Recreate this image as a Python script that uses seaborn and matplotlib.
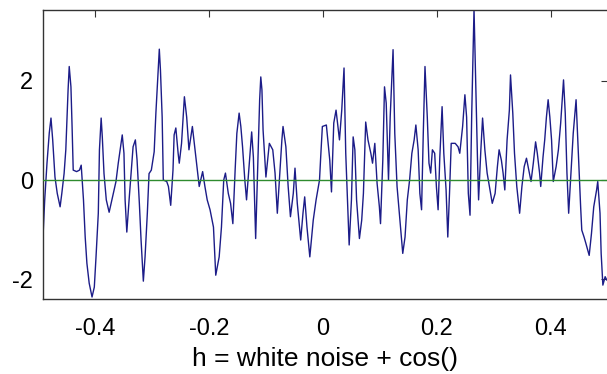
import matplotlib
matplotlib.use("Agg")
import matplotlib.pyplot as plt
import seaborn as sns
import numpy as np

# Sample positions (normalized) and signal values
x_vals = [
    -0.491, -0.488, -0.484, -0.480, -0.477, -0.474, -0.470, -0.466, -0.461, -0.458,
    -0.454, -0.451, -0.447, -0.445, -0.442, -0.440, -0.438, -0.432, -0.427, -0.424,
    -0.420, -0.417, -0.414, -0.410, -0.405, -0.401, -0.398, -0.394, -0.392, -0.389,
    -0.387, -0.384, -0.380, -0.375, -0.369, -0.363, -0.359, -0.355, -0.352, -0.349,
    -0.347, -0.344, -0.340, -0.336, -0.333, -0.329, -0.326, -0.322, -0.319, -0.315,
    -0.312, -0.308, -0.305, -0.301, -0.296, -0.293, -0.289, -0.287, -0.285, -0.282,
    -0.280, -0.274, -0.271, -0.267, -0.263, -0.261, -0.258, -0.254, -0.252, -0.248,
    -0.243, -0.239, -0.235, -0.229, -0.225, -0.221, -0.217, -0.211, -0.207, -0.203,
    -0.198, -0.192, -0.188, -0.182, -0.178, -0.174, -0.171, -0.166, -0.162, -0.158,
    -0.154, -0.151, -0.147, -0.144, -0.141, -0.137, -0.134, -0.130, -0.125, -0.122,
    -0.118, -0.114, -0.111, -0.109, -0.107, -0.105, -0.100, -0.094, -0.088, -0.084,
    -0.080, -0.072, -0.070, -0.065, -0.061, -0.057, -0.052, -0.049, -0.045, -0.039,
    -0.035, -0.032, -0.028, -0.023, -0.017, -0.012, -0.006, -0.004, -0.001, 0.006,
    0.012, 0.015, 0.019, 0.023, 0.029, 0.033, 0.037, 0.040, 0.044, 0.046,
    0.050, 0.053, 0.056, 0.059, 0.064, 0.068, 0.071, 0.075, 0.079, 0.084,
    0.087, 0.091, 0.095, 0.099, 0.101, 0.105, 0.108, 0.111, 0.115, 0.118,
    0.121, 0.123, 0.126, 0.130, 0.135, 0.140, 0.144, 0.148, 0.152, 0.156,
    0.160, 0.163, 0.167, 0.170, 0.173, 0.176, 0.179, 0.183, 0.186, 0.189,
    0.192, 0.196, 0.199, 0.202, 0.205, 0.209, 0.212, 0.216, 0.219, 0.222,
    0.225, 0.232, 0.237, 0.240, 0.245, 0.249, 0.252, 0.255, 0.258, 0.261,
    0.265, 0.268, 0.271, 0.273, 0.277, 0.280, 0.284, 0.288, 0.293, 0.297,
    0.302, 0.306, 0.309, 0.313, 0.316, 0.319, 0.323, 0.327, 0.329, 0.333,
    0.336, 0.340, 0.345, 0.349, 0.353, 0.357, 0.362, 0.365, 0.369, 0.373,
    0.376, 0.380, 0.382, 0.386, 0.389, 0.392, 0.395, 0.398, 0.401, 0.404,
    0.409, 0.413, 0.417, 0.422, 0.425, 0.428, 0.431, 0.435, 0.439, 0.444,
    0.447, 0.450, 0.452, 0.454, 0.458, 0.461, 0.467, 0.471, 0.475, 0.480,
    0.482, 0.486, 0.488, 0.491, 0.495, 0.498,
]
h_vals = [
    -1.15, -0.40, 0.34, 0.95, 1.25, 0.81, 0.06, -0.27, -0.54, -0.27,
    0.13, 0.61, 1.82, 2.29, 1.88, 1.08, 0.20, 0.17, 0.20, 0.30,
    -0.40, -1.15, -1.68, -2.08, -2.36, -2.16, -1.55, -0.67, 0.61, 1.25,
    0.87, 0.13, -0.40, -0.65, -0.34, -0.03, 0.34, 0.67, 0.91, 0.54,
    -0.40, -1.05, -0.40, 0.20, 0.67, 0.81, 0.40, -0.47, -1.21, -2.04,
    -1.55, -0.67, 0.13, 0.20, 0.57, 1.35, 2.22, 2.64, 2.22, 1.27,
    0.00, -0.03, -0.13, -0.51, 0.20, 0.91, 1.05, 0.54, 0.34, 0.74,
    1.68, 1.27, 0.61, 1.08, 0.67, 0.27, -0.13, 0.17, -0.13, -0.40,
    -0.60, -0.95, -1.92, -1.55, -0.95, 0.00, 0.14, -0.27, -0.47, -0.88,
    0.20, 0.94, 1.35, 1.08, 0.67, 0.00, -0.40, 0.20, 0.97, 0.46,
    -1.18, 0.46, 1.62, 2.08, 1.82, 1.01, 0.06, 0.74, 0.61, 0.14,
    -0.67, 0.81, 1.08, 0.67, -0.13, -0.74, -0.27, 0.24, -0.47, -1.21,
    -0.67, -0.34, -0.95, -1.55, -0.81, -0.40, 0.00, 0.45, 1.08, 1.11,
    0.40, -0.24, 1.15, 1.41, 0.81, 1.41, 2.26, 0.54, -0.67, -1.31,
    -0.40, 0.87, 0.61, -0.40, -1.18, -0.81, -0.27, 1.17, 0.81, 0.54,
    0.34, 0.74, -0.07, -0.54, -0.88, 0.40, 1.88, 1.55, 0.00, 1.28,
    2.08, 2.63, 0.94, -0.13, -0.80, -1.48, -1.15, -0.40, 0.00, 0.54,
    0.81, 1.11, 0.61, -0.27, -0.60, 0.94, 2.29, 1.28, 0.34, 0.14,
    0.61, 0.54, -0.13, -0.60, 0.46, 1.48, 0.54, -0.20, -1.15, -0.27,
    0.74, 0.74, 0.67, 0.54, 1.08, 1.72, 1.27, -0.27, -0.71, 1.35,
    3.45, 1.96, 0.46, -0.40, 0.61, 1.25, 0.61, 0.14, -0.20, -0.47,
    -0.27, 0.27, 0.61, 0.40, 0.14, -0.20, 0.81, 1.41, 2.12, 1.35,
    0.54, -0.13, -0.67, -0.13, 0.27, 0.44, 0.14, -0.03, 0.34, 0.77,
    0.54, 0.14, -0.13, 0.46, 0.81, 1.27, 1.62, 1.27, 0.81, -0.03,
    0.27, 0.61, 1.15, 2.02, 1.35, 0.14, -0.67, 0.14, 0.94, 1.62,
    0.81, 0.00, -0.54, -1.01, -1.15, -1.27, -1.52, -1.08, -0.54, -0.20,
    -0.03, -0.67, -1.48, -2.12, -1.95, -2.02,
]
x_ticks = [-0.4, -0.2, 0, 0.2, 0.4]
x_ticklabels = ["-0.4", "-0.2", "0", "0.2", "0.4"]
y_ticks = [-2, 0, 2]
y_ticklabels = ["-2", "0", "2"]
x_label = "h = white noise + cos()"

sns.set_style("white")
plt.rcParams["font.family"] = ["Liberation Sans", "DejaVu Sans"]

W, H = 607, 374
fig = plt.figure(figsize=(W / 100, H / 100), dpi=100)
ax = fig.add_axes([43 / W, 1 - 299 / H, (608 - 43) / W, (299 - 10) / H])

sns.lineplot(x=x_vals, y=h_vals, ax=ax, color="#1c1c88", linewidth=1.0,
             estimator=None, sort=False, zorder=2)
ax.axhline(0, color="#2e8b2e", linewidth=1.0, zorder=3)

ax.set_xlim(-0.491, 0.5)
ax.set_ylim(-2.40, 3.43)
ax.set_xticks(x_ticks)
ax.set_xticklabels(x_ticklabels)
ax.set_yticks(y_ticks)
ax.set_yticklabels(y_ticklabels)
ax.tick_params(direction="in", length=5, width=0.8, color="#333333",
               labelsize=17, top=True, right=True)
ax.tick_params(axis="x", pad=14)
ax.tick_params(axis="y", pad=7)
ax.set_xlabel(x_label, fontsize=19, labelpad=5, color="black")
for lab in ax.get_xticklabels() + ax.get_yticklabels():
    lab.set_color("black")
for s in ax.spines.values():
    s.set_color("#333333")
    s.set_linewidth(1.0)

fig.savefig("out.png", dpi=100, facecolor="white")
